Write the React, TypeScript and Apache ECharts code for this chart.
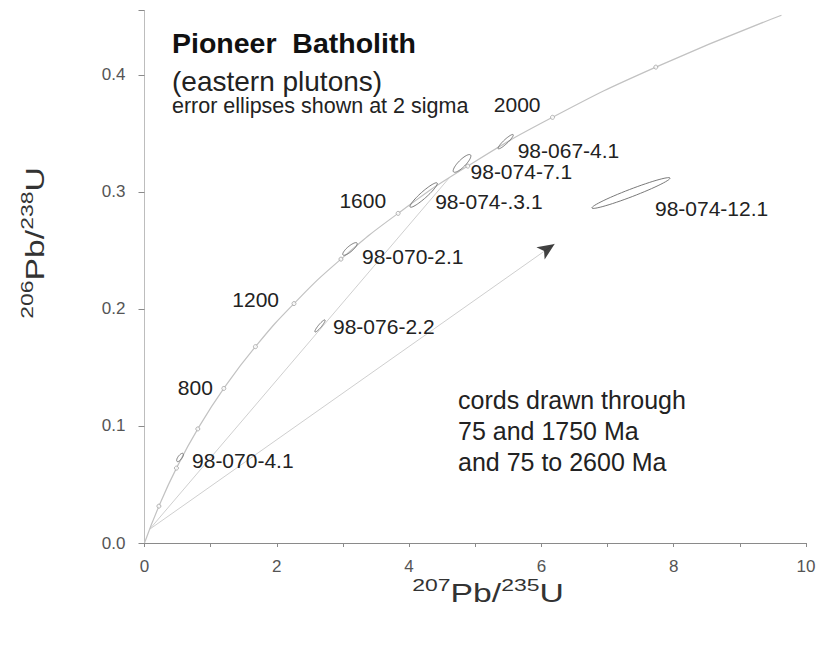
import React, { useEffect, useRef } from 'react';
import * as echarts from 'echarts';

// Concordia curve, sampled every 200 Ma (x = 207Pb/235U, y = 206Pb/238U)
const concordiaAges = [0, 200, 400, 600, 800, 1000, 1200, 1400, 1600, 1800, 2000, 2200, 2400];
const concordiaPb207U235 = [0, 0.218, 0.483, 0.806, 1.199, 1.677, 2.26, 2.97, 3.834, 4.887, 6.168, 7.73, 9.629];
const concordiaPb206U238 = [0, 0.0315, 0.064, 0.0975, 0.1321, 0.1678, 0.2046, 0.2426, 0.2817, 0.3221, 0.3638, 0.4067, 0.451];

// Ages written beside the concordia
const labelledAges = [800, 1200, 1600, 2000];

// Chords from the 75 Ma lower intercept
const chordStart = [0.077, 0.0117];
const chord1750End = [4.604, 0.3119];
const chord2600End = [6.2, 0.2556];

// Analysed spots: ellipse centre, half major axis (in ratio units) and minor/major ratio
const sampleNames = ['98-067-4.1', '98-074-7.1', '98-074-.3.1', '98-070-2.1', '98-076-2.2', '98-074-12.1', '98-070-4.1'];
const samplePb207U235 = [5.46, 4.8, 4.22, 3.106, 2.653, 7.354, 0.537];
const samplePb206U238 = [0.343, 0.3244, 0.2974, 0.2513, 0.1855, 0.2991, 0.0731];
const majorHalfPb207U235 = [0.113, 0.128, 0.204, 0.106, 0.0756, 0.59, 0.045];
const majorHalfPb206U238 = [0.006, 0.00726, 0.01026, 0.0051, 0.0051, 0.0128, 0.0034];
const minorToMajor = [0.2, 0.3, 0.18, 0.3, 0.2, 0.09, 0.4];

// Axis range
const xMax = 10;
const yTop = 0.455;

const FONT = '"Liberation Sans", Arial, Helvetica, sans-serif';

// label placement in px relative to each ellipse centre
const sampleLabelOffsets: [number, number][] = [
  [12, 9],
  [8.5, 8],
  [11.5, 6],
  [12, 8],
  [13, 1],
  [24, 15],
  [12, 3.5],
];
const ageLabelOffsets: Record<number, [number, number]> = {
  800: [-11, -1],
  1200: [-15, -4],
  1600: [-12, -13],
  2000: [-12, -13],
};

const concordiaData = concordiaPb207U235.map((x, i) => [x, concordiaPb206U238[i]]);
const tickData = concordiaData.slice(1, -1);
const ageLabelData = labelledAges.map((a) => {
  const i = concordiaAges.indexOf(a);
  return [concordiaData[i][0], concordiaData[i][1], a];
});
const ellipseData = sampleNames.map((_, i) => [
  samplePb207U235[i],
  samplePb206U238[i],
  majorHalfPb207U235[i],
  majorHalfPb206U238[i],
  minorToMajor[i],
]);

const axisTitleRich = {
  s: { fontSize: 17, lineHeight: 17, verticalAlign: 'top', fontFamily: FONT, fill: '#333' },
  m: { fontSize: 25, lineHeight: 29, verticalAlign: 'bottom', fontFamily: FONT, fill: '#333' },
};

const isStep = (v: number, step: number) => Math.abs(v / step - Math.round(v / step)) < 1e-6;

const option: any = {
  animation: false,
  backgroundColor: '#ffffff',
  grid: { show: false, left: 144.5, right: 16, top: 10.6, bottom: 103, containLabel: false, outerBoundsMode: 'none' },
  xAxis: {
    type: 'value',
    min: 0,
    max: xMax,
    interval: 1,
    axisLine: { show: true, onZero: false, lineStyle: { color: '#8a8a8a', width: 1 } },
    axisTick: { show: true, length: 4, lineStyle: { color: '#8a8a8a' } },
    axisLabel: {
      formatter: (v: number) => (isStep(v, 2) ? String(v) : ''),
      color: '#555',
      fontSize: 17,
      fontFamily: FONT,
      margin: 15,
    },
    splitLine: { show: false },
  },
  yAxis: {
    type: 'value',
    min: 0,
    max: yTop,
    interval: 0.1,
    axisLine: { show: true, lineStyle: { color: '#bdbdbd', width: 1 } },
    axisTick: { show: true, length: 6, lineStyle: { color: '#8a8a8a' } },
    axisLabel: {
      formatter: (v: number) => (isStep(v, 0.1) ? v.toFixed(1) : ''),
      color: '#555',
      fontSize: 17,
      fontFamily: FONT,
      margin: 19,
    },
    splitLine: { show: false },
  },
  series: [
    {
      name: 'concordia',
      type: 'line',
      data: concordiaData,
      smooth: true,
      showSymbol: false,
      lineStyle: { color: '#c2c2c2', width: 1.2 },
      z: 2,
      markLine: {
        silent: true,
        symbol: 'none',
        label: { show: false },
        lineStyle: { color: '#d4d4d4', width: 1, type: 'solid' },
        data: [{ yAxis: yTop }],
      },
    },
    {
      name: 'chord 75-1750 Ma',
      type: 'line',
      data: [chordStart, chord1750End],
      showSymbol: false,
      lineStyle: { color: '#cfcfcf', width: 1 },
      z: 1,
    },
    {
      name: 'chord 75-2600 Ma',
      type: 'line',
      data: [chordStart, chord2600End],
      showSymbol: false,
      lineStyle: { color: '#cfcfcf', width: 1 },
      z: 1,
    },
    {
      name: 'age ticks',
      type: 'scatter',
      data: tickData,
      symbol: 'circle',
      symbolSize: 4,
      itemStyle: { color: '#ffffff', borderColor: '#a0a0a0', borderWidth: 1 },
      z: 3,
    },
    {
      name: 'arrow',
      type: 'scatter',
      data: [chord2600End],
      symbol: 'arrow',
      symbolSize: [11, 17],
      symbolRotate: -56,
      itemStyle: { color: '#111111' },
      z: 4,
    },
    {
      name: 'error ellipses',
      type: 'custom',
      data: ellipseData,
      encode: { x: 0, y: 1 },
      z: 5,
      renderItem: (params: any, api: any) => {
        const i = params.dataIndex;
        const cxv = api.value(0);
        const cyv = api.value(1);
        const c = api.coord([cxv, cyv]);
        const e = api.coord([cxv + api.value(2), cyv + api.value(3)]);
        const ux = e[0] - c[0];
        const uy = e[1] - c[1];
        const a = Math.hypot(ux, uy);
        const b = a * api.value(4);
        const nx = -uy / a;
        const ny = ux / a;
        const points: number[][] = [];
        const n = 60;
        for (let k = 0; k < n; k++) {
          const t = (k / n) * Math.PI * 2;
          points.push([
            c[0] + ux * Math.cos(t) + nx * b * Math.sin(t),
            c[1] + uy * Math.cos(t) + ny * b * Math.sin(t),
          ]);
        }
        const off = sampleLabelOffsets[i];
        return {
          type: 'group',
          children: [
            {
              type: 'polygon',
              shape: { points },
              style: { fill: 'none', stroke: '#6a6a6a', lineWidth: 0.9 },
            },
            {
              type: 'text',
              x: c[0] + off[0],
              y: c[1] + off[1],
              style: {
                text: sampleNames[i],
                fill: '#222',
                fontSize: 21,
                fontFamily: FONT,
                align: 'left',
                verticalAlign: 'middle',
              },
            },
          ],
        };
      },
    },
    {
      name: 'age labels',
      type: 'custom',
      data: ageLabelData,
      encode: { x: 0, y: 1 },
      z: 5,
      renderItem: (_params: any, api: any) => {
        const c = api.coord([api.value(0), api.value(1)]);
        const age = api.value(2);
        const off = ageLabelOffsets[age] || [0, 0];
        return {
          type: 'text',
          x: c[0] + off[0],
          y: c[1] + off[1],
          style: {
            text: String(age),
            fill: '#222',
            fontSize: 21,
            fontFamily: FONT,
            align: 'right',
            verticalAlign: 'middle',
          },
        };
      },
    },
  ],
  graphic: [
    {
      type: 'text',
      x: 172,
      y: 43,
      style: {
        text: 'Pioneer  Batholith',
        fill: '#111',
        fontSize: 28.5,
        fontWeight: 'bold',
        fontFamily: FONT,
        align: 'left',
        verticalAlign: 'middle',
      },
    },
    {
      type: 'text',
      x: 172,
      y: 81,
      style: {
        text: '(eastern plutons)',
        fill: '#222',
        fontSize: 28,
        fontFamily: FONT,
        align: 'left',
        verticalAlign: 'middle',
      },
    },
    {
      type: 'text',
      x: 172,
      y: 106,
      style: {
        text: 'error ellipses shown at 2 sigma',
        fill: '#222',
        fontSize: 21.5,
        fontFamily: FONT,
        align: 'left',
        verticalAlign: 'middle',
      },
    },
    {
      type: 'text',
      x: 458,
      y: 384,
      style: {
        text: 'cords drawn through\n75 and 1750 Ma\nand 75 to 2600 Ma',
        fill: '#222',
        fontSize: 25,
        lineHeight: 31,
        fontFamily: FONT,
        align: 'left',
        verticalAlign: 'top',
      },
    },
    {
      type: 'text',
      x: 488,
      y: 591,
      scaleX: 1.35,
      style: {
        text: '{s|207}{m|Pb/}{s|235}{m|U}',
        align: 'center',
        verticalAlign: 'middle',
        rich: axisTitleRich,
      },
    },
    {
      type: 'text',
      x: 33,
      y: 243,
      rotation: Math.PI / 2,
      scaleX: 1.35,
      style: {
        text: '{s|206}{m|Pb/}{s|238}{m|U}',
        align: 'center',
        verticalAlign: 'middle',
        rich: axisTitleRich,
      },
    },
  ],
};

export default function App() {
  const ref = useRef<HTMLDivElement>(null);
  useEffect(() => {
    document.body.style.margin = '0';
    const chart = echarts.init(ref.current as HTMLDivElement, null, { renderer: 'svg' });
    chart.setOption(option);
    return () => {
      chart.dispose();
    };
  }, []);
  return <div ref={ref} style={{ width: 822, height: 646, background: '#ffffff' }} />;
}
